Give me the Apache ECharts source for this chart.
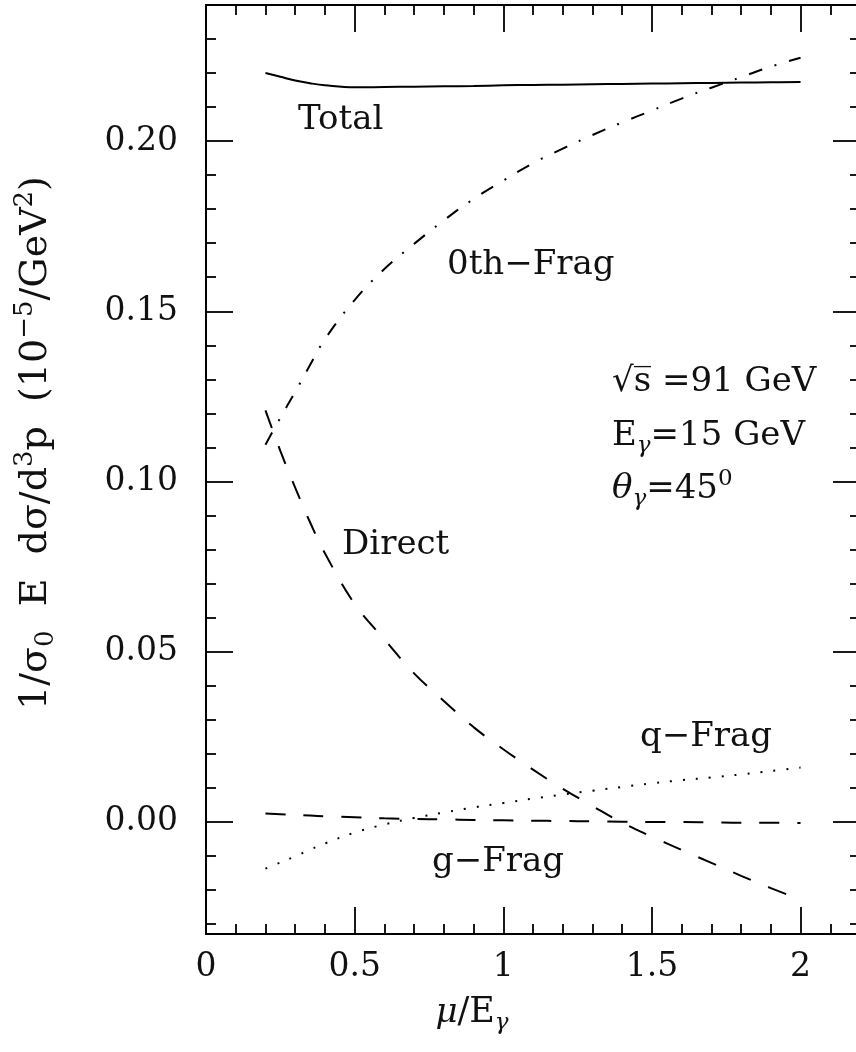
<!DOCTYPE html>
<html>
<head>
<meta charset="utf-8">
<script src="https://cdn.jsdelivr.net/npm/echarts@6.0.0/dist/echarts.min.js"></script>
<style>
  html, body { margin: 0; padding: 0; background: #fff; }
  #chart { width: 856px; height: 1052px; }
</style>
</head>
<body>
<div id="chart"></div>
<script>
// mu / E_gamma sample points shared by every curve
const mu = [0.2, 0.25, 0.3, 0.35, 0.4, 0.5, 0.6, 0.7, 0.8, 0.9, 1.0, 1.1, 1.2, 1.3, 1.4, 1.5, 1.6, 1.7, 1.8, 1.9, 2.0];

const total   = [0.2200, 0.2189, 0.2178, 0.2170, 0.2164, 0.2158, 0.2159, 0.2160, 0.2161, 0.2162, 0.2164, 0.2165, 0.2166, 0.2167, 0.2168, 0.2169, 0.2170, 0.2171, 0.2172, 0.2173, 0.2174];
const othFrag = [0.1108, 0.1187, 0.1263, 0.1342, 0.1418, 0.1533, 0.1624, 0.1698, 0.1767, 0.1830, 0.1884, 0.1935, 0.1978, 0.2018, 0.2055, 0.2090, 0.2125, 0.2157, 0.2188, 0.2219, 0.2245];
const direct  = [0.1209, 0.1090, 0.0982, 0.0880, 0.0789, 0.0640, 0.0536, 0.0436, 0.0355, 0.0278, 0.0213, 0.0153, 0.0097, 0.0046, -0.0003, -0.0044, -0.0083, -0.0121, -0.0159, -0.0195, -0.0229];
const gFrag   = [0.0024, 0.0022, 0.0020, 0.0018, 0.0016, 0.0013, 0.0010, 0.0008, 0.0007, 0.0005, 0.0004, 0.0003, 0.0002, 0.0001, 0.0000, -0.0001, -0.0001, -0.0002, -0.0003, -0.0003, -0.0004];
const qFrag   = [-0.0138, -0.0120, -0.0102, -0.0082, -0.0064, -0.0032, -0.0008, 0.0011, 0.0027, 0.0042, 0.0055, 0.0068, 0.0080, 0.0091, 0.0102, 0.0113, 0.0122, 0.0130, 0.0139, 0.0149, 0.0159];

// ticks
const xMajor = [0, 0.5, 1, 1.5, 2];
const xMinor = [0.1, 0.2, 0.3, 0.4, 0.6, 0.7, 0.8, 0.9, 1.1, 1.2, 1.3, 1.4, 1.6, 1.7, 1.8, 1.9, 2.1];
const yMajor = [0, 0.05, 0.1, 0.15, 0.2];
const yMinor = [-0.03, -0.02, -0.01, 0.01, 0.02, 0.03, 0.04, 0.06, 0.07, 0.08, 0.09, 0.11, 0.12, 0.13, 0.14, 0.16, 0.17, 0.18, 0.19, 0.21, 0.22, 0.23];

const FONT = "DejaVu Serif";
const chart = echarts.init(document.getElementById("chart"));

const pairs = vals => mu.map((m, i) => [m, vals[i]]);

function xAx(pos, ticks, len, showLine, labels) {
  return {
    type: "value", min: 0, max: 2.2, position: pos,
    axisLine: { show: showLine, onZero: false, lineStyle: { color: "#000", width: 2 } },
    axisTick: { show: true, inside: true, length: len, customValues: ticks, lineStyle: { color: "#000", width: 1.8 } },
    axisLabel: labels ? {
      show: true, customValues: xMajor, margin: 17, color: "#111",
      fontFamily: FONT, fontSize: 33, formatter: v => String(v)
    } : { show: false },
    splitLine: { show: false }
  };
}
function yAx(pos, ticks, len, showLine, labels) {
  return {
    type: "value", min: -0.033, max: 0.24, position: pos,
    axisLine: { show: showLine, onZero: false, lineStyle: { color: "#000", width: 2 } },
    axisTick: { show: true, inside: true, length: len, customValues: ticks, lineStyle: { color: "#000", width: 1.8 } },
    axisLabel: labels ? {
      show: true, customValues: yMajor, margin: 28, color: "#111",
      fontFamily: FONT, fontSize: 33, formatter: v => v.toFixed(2)
    } : { show: false },
    splitLine: { show: false }
  };
}

const rich = {
  i: { fontFamily: FONT, fontSize: 34, fontStyle: "italic" },
  sub: { fontFamily: FONT, fontSize: 23, padding: [18, 0, 0, 0] },
  subi: { fontFamily: FONT, fontSize: 23, fontStyle: "italic", padding: [20, 0, 0, 0] },
  sup: { fontFamily: FONT, fontSize: 23, padding: [0, 0, 20, 0] }
};
function label(x, y, text, size) {
  return {
    type: "text", x: x, y: y, silent: true,
    style: {
      text: text, fill: "#111", fontFamily: FONT, fontSize: size || 34,
      textAlign: "left", textVerticalAlign: "middle", align: "left", verticalAlign: "middle",
      rich: rich
    }
  };
}

const option = {
  animation: false,
  backgroundColor: "#fff",
  grid: { left: 206, top: 5, width: 654, height: 929, containLabel: false, outerBoundsMode: "none" },
  xAxis: [
    xAx("bottom", xMajor, 27, true, true),
    xAx("bottom", xMinor, 10, false, false),
    xAx("top", xMajor, 27, true, false),
    xAx("top", xMinor, 10, false, false)
  ],
  yAxis: [
    yAx("left", yMajor, 27, true, true),
    yAx("left", yMinor, 10, false, false),
    yAx("right", yMajor, 27, true, false),
    yAx("right", yMinor, 10, false, false)
  ],
  series: [
    { name: "Total", type: "line", data: pairs(total), showSymbol: false, smooth: 0.4,
      lineStyle: { color: "#000", width: 2, type: "solid" } },
    { name: "0th-Frag", type: "line", data: pairs(othFrag), showSymbol: false, smooth: 0.4,
      lineStyle: { color: "#000", width: 2, type: [14, 13, 2, 13] } },
    { name: "Direct", type: "line", data: pairs(direct), showSymbol: false, smooth: 0.4,
      lineStyle: { color: "#000", width: 2, type: [19, 19] } },
    { name: "g-Frag", type: "line", data: pairs(gFrag), showSymbol: false, smooth: 0.4,
      lineStyle: { color: "#000", width: 2, type: [20, 18] } },
    { name: "q-Frag", type: "line", data: pairs(qFrag), showSymbol: false, smooth: 0.4,
      lineStyle: { color: "#000", width: 2, type: [2, 11] } }
  ],
  graphic: [
    label(298, 120, "Total"),
    label(447, 265, "0th\u2212Frag"),
    label(342, 545, "Direct"),
    label(640, 737, "q\u2212Frag"),
    label(432, 862, "g\u2212Frag"),
    label(612, 382, "\u221As\u0305 =91 GeV"),
    label(612, 436, "E{subi|\u03B3}=15 GeV"),
    label(612, 489, "{i|\u03B8}{subi|\u03B3}=45{sup|0}"),
    {
      type: "text", x: 472, y: 1013, silent: true,
      style: {
        text: "{i|\u03BC}/E{subi|\u03B3}", fill: "#111", fontFamily: FONT, fontSize: 35,
        textAlign: "center", textVerticalAlign: "middle", align: "center", verticalAlign: "middle", rich: rich
      }
    },
    {
      type: "text", x: 36, y: 443, rotation: Math.PI / 2, silent: true,
      style: {
        text: "1/\u03C3{sub|0}  E  d\u03C3/d{sup|3}p  (10{sup|\u22125}/GeV{sup|2})",
        fill: "#111", fontFamily: FONT, fontSize: 38,
        textAlign: "center", textVerticalAlign: "middle", align: "center", verticalAlign: "middle",
        rich: {
          sub: { fontFamily: FONT, fontSize: 26, padding: [20, 0, 0, 0] },
          sup: { fontFamily: FONT, fontSize: 26, padding: [0, 0, 22, 0] }
        }
      }
    }
  ]
};

chart.setOption(option);
</script>
</body>
</html>
